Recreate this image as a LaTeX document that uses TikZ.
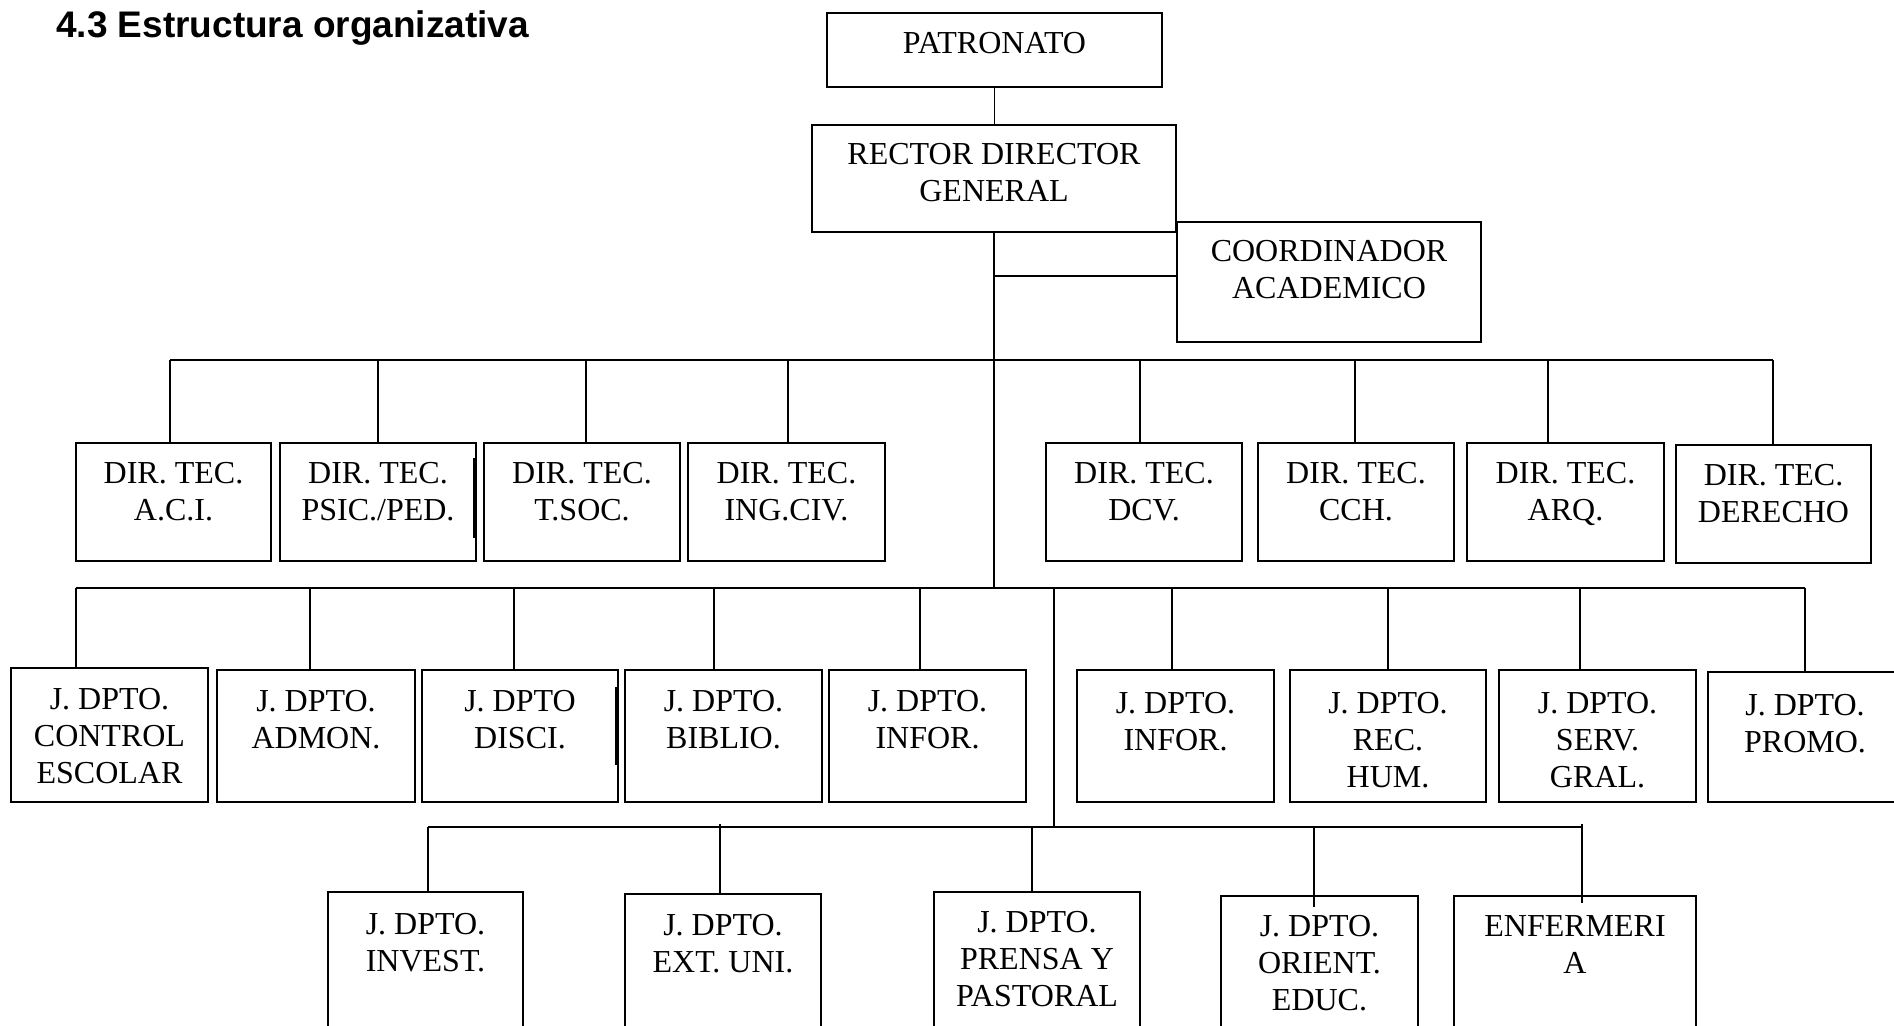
\documentclass[tikz,border=0pt]{standalone}
\usepackage{fontspec}
\setmainfont{Liberation Serif}
\newfontfamily\titlefont{Liberation Sans}
\tikzset{
  box/.style={draw=black, line width=2.4pt, fill=white, inner sep=0pt, outer sep=0pt},
  lbl/.style={font=\fontsize{32}{37}\selectfont, align=center, inner sep=0pt, outer sep=0pt},
  conn/.style={draw=black, line width=1.7pt},
  hbar/.style={draw=black, line width=2.3pt},
  glitch/.style={draw=black, line width=2.6pt},
}
% #1 name, #2 x1, #3 y1, #4 x2, #5 y2, #6 text offset, #7 text
\newcommand\orgbox[7]{%
  \node[box, minimum width={#4-#2}, minimum height={#5-#3}] (#1) at ({(#2+#4)/2},{-(#3+#5)/2}) {};
  \node[lbl, anchor=north] (#1t) at ([yshift=-#6pt]#1.north) {#7};
}
\begin{document}
\begin{tikzpicture}[x=1pt,y=1pt]
\useasboundingbox (0,0) rectangle (1894,-1025);
\fill[white] (0,0) rectangle (1894,-1025);
\clip (0,0) rectangle (1894,-1025);

% title
\node[anchor=base west, inner sep=0pt] (title) at (56,-37.5)
  {\titlefont\bfseries\fontsize{37}{43}\selectfont 4.3 Estructura organizativa};

% top
\orgbox{pat}{827}{13}{1162}{87}{19}{PATRONATO}
\orgbox{rec}{812}{125}{1176}{232}{18}{RECTOR DIRECTOR\\GENERAL}
\orgbox{coo}{1177}{222}{1481}{342}{18}{COORDINADOR\\ACADEMICO}

% level 1
\orgbox{aci}{76}{443}{271}{561}{19}{DIR. TEC.\\A.C.I.}
\orgbox{psi}{280}{443}{476}{561}{19}{DIR. TEC.\\PSIC./PED.}
\orgbox{tso}{484}{443}{680}{561}{19}{DIR. TEC.\\T.SOC.}
\orgbox{ing}{688}{443}{885}{561}{19}{DIR. TEC.\\ING.CIV.}
\orgbox{dcv}{1046}{443}{1242}{561}{19}{DIR. TEC.\\DCV.}
\orgbox{cch}{1258}{443}{1454}{561}{19}{DIR. TEC.\\CCH.}
\orgbox{arq}{1467}{443}{1664}{561}{19}{DIR. TEC.\\ARQ.}
\orgbox{der}{1676}{445}{1871}{563}{19}{DIR. TEC.\\DERECHO}

% level 2
\orgbox{ces}{11}{668}{208}{802}{20}{J. DPTO.\\CONTROL\\ESCOLAR}
\orgbox{adm}{217}{670}{415}{802}{20}{J. DPTO.\\ADMON.}
\orgbox{dis}{422}{670}{618}{802}{20}{J. DPTO\\DISCI.}
\orgbox{bib}{625}{670}{822}{802}{20}{J. DPTO.\\BIBLIO.}
\orgbox{inf}{829}{670}{1026}{802}{20}{J. DPTO.\\INFOR.}
\orgbox{inftwo}{1077}{670}{1274}{802}{22}{J. DPTO.\\INFOR.}
\orgbox{rhu}{1290}{670}{1486}{802}{22}{J. DPTO.\\REC.\\HUM.}
\orgbox{ser}{1499}{670}{1696}{802}{22}{J. DPTO.\\SERV.\\GRAL.}
\orgbox{pro}{1708}{672}{1902}{802}{22}{J. DPTO.\\PROMO.}

% level 3
\orgbox{inv}{328}{892}{523}{1045}{21}{J. DPTO.\\INVEST.}
\orgbox{ext}{625}{894}{821}{1045}{20}{J. DPTO.\\EXT. UNI.}
\orgbox{pre}{934}{892}{1140}{1045}{19}{J. DPTO.\\PRENSA Y\\PASTORAL}
\orgbox{ori}{1221}{896}{1418}{1045}{19}{J. DPTO.\\ORIENT.\\EDUC.}
\orgbox{enf}{1454}{896}{1696}{1045}{20}{ENFERMERI\\A}

% junction coordinates
\coordinate (jc) at (994,-276);
\coordinate (jtwo) at (994,-588);
\coordinate (jthreetop) at (1054,-588);
\coordinate (jthree) at (1054,-827);

\coordinate (da) at (170,-360);
\coordinate (db) at (378,-360);
\coordinate (dc) at (586,-360);
\coordinate (dd) at (788,-360);
\coordinate (de) at (1140,-360);
\coordinate (df) at (1355,-360);
\coordinate (dg) at (1548,-360);
\coordinate (dh) at (1773,-360);

\coordinate (ea) at (76,-588);
\coordinate (eb) at (310,-588);
\coordinate (ec) at (514,-588);
\coordinate (ed) at (714,-588);
\coordinate (ee) at (920,-588);
\coordinate (ef) at (1172,-588);
\coordinate (eg) at (1388,-588);
\coordinate (eh) at (1580,-588);
\coordinate (ei) at (1805,-588);

\coordinate (fa) at (428,-827);
\coordinate (fb) at (720,-827);
\coordinate (fc) at (1032,-827);
\coordinate (fd) at (1314,-827);
\coordinate (fe) at (1582,-827);

% trunk
\draw[conn] (pat.south) -- (pat.south |- rec.north);
\draw[conn] (rec.south -| jtwo) -- (jtwo);
\draw[conn] (jc) -- (jc -| coo.west);
\draw[conn] (jthreetop) -- (jthree);
\draw[glitch] (994,-430) -- (994,-450);

% bars
\draw[hbar] (da) -- (dh);
\draw[hbar] (ea) -- (ei);
\draw[hbar] (fa) -- (fe);

% level 1 drops
\draw[conn] (da) -- (da |- aci.north);
\draw[conn] (db) -- (db |- psi.north);
\draw[conn] (dc) -- (dc |- tso.north);
\draw[conn] (dd) -- (dd |- ing.north);
\draw[conn] (de) -- (de |- dcv.north);
\draw[conn] (df) -- (df |- cch.north);
\draw[conn] (dg) -- (dg |- arq.north);
\draw[conn] (dh) -- (dh |- der.north);

% level 2 drops
\draw[conn] (ea) -- (ea |- ces.north);
\draw[conn] (eb) -- (eb |- adm.north);
\draw[conn] (ec) -- (ec |- dis.north);
\draw[conn] (ed) -- (ed |- bib.north);
\draw[conn] (ee) -- (ee |- inf.north);
\draw[conn] (ef) -- (ef |- inftwo.north);
\draw[conn] (eg) -- (eg |- rhu.north);
\draw[conn] (eh) -- (eh |- ser.north);
\draw[conn] (ei) -- (ei |- pro.north);

% level 3 drops
\draw[conn] (fa) -- (fa |- inv.north);
\draw[conn] ([yshift=3pt]fb) -- (fb |- ext.north);
\draw[conn] (fc) -- (fc |- pre.north);
\draw[conn] (fd) -- ([yshift=-11pt]fd |- ori.north);
\draw[conn] ([yshift=3pt]fe) -- ([yshift=-7pt]fe |- enf.north);

% stray marks
\draw[glitch] ([xshift=-2pt,yshift=-15pt]psi.north east) -- ([xshift=-2pt,yshift=-95pt]psi.north east);
\draw[glitch] ([xshift=-2pt,yshift=-17pt]dis.north east) -- ([xshift=-2pt,yshift=-95pt]dis.north east);
\end{tikzpicture}
\end{document}
